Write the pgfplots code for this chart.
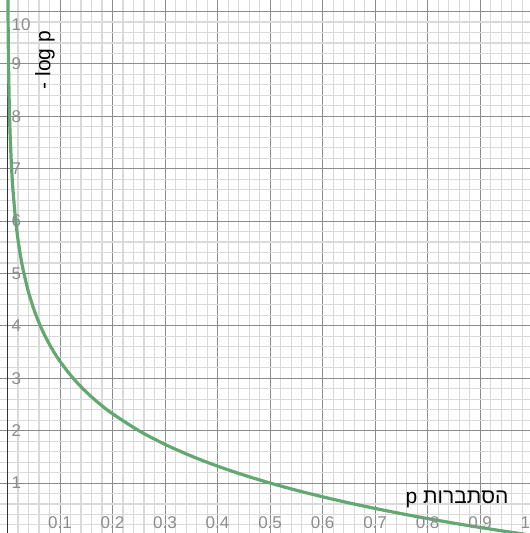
\documentclass[border=0pt]{standalone}
\usepackage{fontspec}
\setmainfont{Liberation Sans}
\newfontfamily\hebfont[Script=Hebrew]{Liberation Sans}
\TeXXeTstate=1
\usepackage{pgfplots}
\pgfplotsset{compat=1.18}
\definecolor{majgrid}{HTML}{8C8C8C}
\definecolor{mingrid}{HTML}{DADADA}
\definecolor{curve}{HTML}{62A870}
\definecolor{ticklab}{HTML}{8C8C8C}
\begin{document}
\begin{tikzpicture}
\begin{axis}[
  width=530bp, height=533bp, scale only axis,
  xmin=-0.0143, xmax=0.995, ymin=0.046, ymax=10.22,
  clip bounding box=upper bound,
  axis line style={draw=none},
  xtick={0,0.1,0.2,0.3,0.4,0.5,0.6,0.7,0.8,0.9,1},
  ytick={0,1,2,3,4,5,6,7,8,9,10},
  minor x tick num=4, minor y tick num=4,
  grid=both,
  major grid style={majgrid, line width=1bp},
  minor grid style={mingrid, line width=1.1bp},
  xticklabels={}, yticklabels={},
  major tick length=0pt, minor tick length=0pt,
  clip=true,
]
\addplot[draw=black!80, line width=1.8bp] coordinates {(0,0.046) (0,10.22)};
\addplot[curve, line width=3.2bp, smooth, tension=0.5] coordinates {
(0.0008,10.288) (0.001,9.966) (0.0015,9.381) (0.002,8.966) (0.003,8.381)
(0.004,7.966) (0.005,7.644) (0.0075,7.059) (0.01,6.644) (0.015,6.059)
(0.02,5.644) (0.025,5.322) (0.03,5.059) (0.04,4.644) (0.05,4.322)
(0.06,4.059) (0.07,3.837) (0.08,3.644) (0.09,3.474) (0.1,3.322)
(0.12,3.059) (0.14,2.837) (0.16,2.644) (0.18,2.474) (0.2,2.322)
(0.25,2.000) (0.3,1.737) (0.35,1.515) (0.4,1.322) (0.45,1.152)
(0.5,1.000) (0.55,0.862) (0.6,0.737) (0.65,0.621) (0.7,0.515)
(0.75,0.415) (0.8,0.322) (0.85,0.234) (0.9,0.152) (0.95,0.074) (1.0,0)
};
\pgfplotsinvokeforeach{1,...,9}{
  \node[ticklab, inner sep=0pt, font=\fontsize{17bp}{19bp}\selectfont] at (axis cs:0.#1,0.24) {0.#1};
}
\node[ticklab, inner sep=0pt, font=\fontsize{17bp}{19bp}\selectfont] at (axis cs:0.986,0.24) {1};
\pgfplotsinvokeforeach{1,...,9}{
  \node[ticklab, anchor=west, inner sep=0pt, font=\fontsize{17bp}{19bp}\selectfont] at (axis cs:0.0075,#1) {#1};
}
\node[ticklab, anchor=west, inner sep=0pt, font=\fontsize{17bp}{19bp}\selectfont] at (axis cs:0.0075,9.74) {10};
\node[rotate=90, inner sep=0pt, font=\fontsize{21bp}{23bp}\selectfont] at (axis cs:0.0714,9.07) {- log p};
\node[inner sep=0pt, font=\fontsize{21bp}{23bp}\selectfont] at (axis cs:0.856,0.69) {\hebfont\beginR הסתברות p\endR};
\end{axis}
\pgfresetboundingbox
\path[use as bounding box] (current axis.south west) rectangle (current axis.north east);
\end{tikzpicture}
\end{document}
